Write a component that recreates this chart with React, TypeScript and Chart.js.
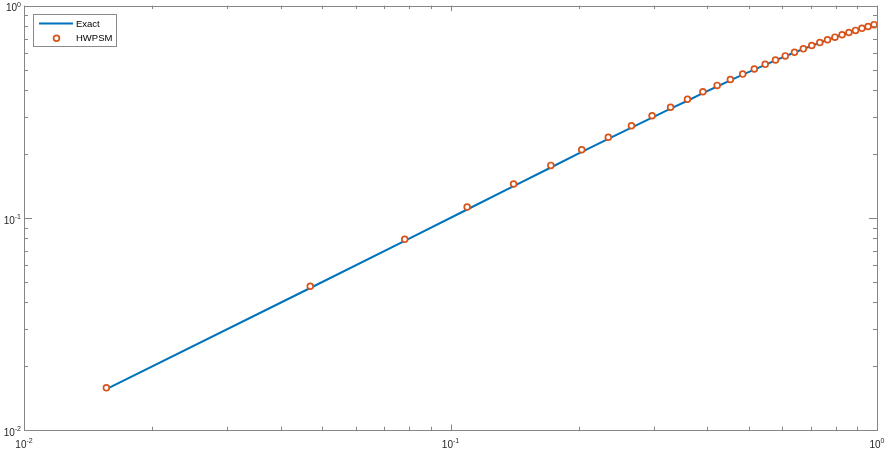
import { useEffect, useRef } from 'react';
import Chart from 'chart.js/auto';

// sample points (x) shared by both series
const X_VALUES = [
  0.0156, 0.0469, 0.0781, 0.1094, 0.1406, 0.1719, 0.2031, 0.2344, 0.2656, 0.2969, 0.3281,
  0.3594, 0.3906, 0.4219, 0.4531, 0.4844, 0.5156, 0.5469, 0.5781, 0.6094, 0.6406, 0.6719,
  0.7031, 0.7344, 0.7656, 0.7969, 0.8281, 0.8594, 0.8906, 0.9219, 0.9531, 0.9844
];

const EXACT_Y = [
  0.0156, 0.0467, 0.0778, 0.1095, 0.141, 0.1727, 0.2045, 0.2355, 0.2665, 0.297, 0.327,
  0.3565, 0.387, 0.416, 0.445, 0.473, 0.5, 0.5265, 0.5525, 0.5775, 0.6015, 0.625,
  0.6475, 0.669, 0.69, 0.71, 0.7295, 0.748, 0.7655, 0.7825, 0.7985, 0.814
];

const HWPSM_Y = [
  0.0158, 0.0476, 0.0792, 0.1124, 0.1443, 0.1767, 0.2094, 0.24, 0.2716, 0.3027, 0.3322,
  0.3623, 0.393, 0.421, 0.449, 0.476, 0.503, 0.529, 0.555, 0.58, 0.603, 0.626,
  0.649, 0.67, 0.691, 0.711, 0.73, 0.748, 0.765, 0.782, 0.798, 0.814
];

const SERIES_LABELS = ['Exact', 'HWPSM'];
const TICK_EXPONENTS = [-2, -1, 0];
const MINOR_STEPS = [2, 3, 4, 5, 6, 7, 8, 9];

const C = {
  blue: '#0072BD',
  orange: '#D95319',
  axis: '#868686',
  text: '#262626',
  legendEdge: '#8a8a8a'
};
const FONT = '"Liberation Sans", Arial, Helvetica, sans-serif';

// MATLAB-like box, inward ticks and 10^n labels
const axesPlugin = {
  id: 'matlabAxes',
  afterDatasetsDraw(chart: any) {
    const { ctx, chartArea, scales } = chart;
    const { left, right, top, bottom } = chartArea;
    const xs = scales.x;
    const ys = scales.y;
    ctx.save();
    ctx.strokeStyle = C.axis;
    ctx.lineWidth = 1;
    ctx.strokeRect(Math.round(left) + 0.5, Math.round(top) + 0.5, Math.round(right - left), Math.round(bottom - top));

    const ticks: { v: number; major: boolean }[] = [];
    TICK_EXPONENTS.forEach((e, i) => {
      ticks.push({ v: Math.pow(10, e), major: true });
      if (i < TICK_EXPONENTS.length - 1) {
        MINOR_STEPS.forEach((m) => ticks.push({ v: m * Math.pow(10, e), major: false }));
      }
    });

    ctx.beginPath();
    ticks.forEach(({ v, major }) => {
      const px = Math.round(xs.getPixelForValue(v)) + 0.5;
      const lx = major ? 5.5 : 3.3;
      ctx.moveTo(px, bottom);
      ctx.lineTo(px, bottom - lx);
      ctx.moveTo(px, top);
      ctx.lineTo(px, top + lx);
      const py = Math.round(ys.getPixelForValue(v)) + 0.5;
      const ly = major ? 8 : 4;
      ctx.moveTo(left, py);
      ctx.lineTo(left + ly, py);
      ctx.moveTo(right, py);
      ctx.lineTo(right - ly, py);
    });
    ctx.stroke();

    ctx.fillStyle = C.text;
    ctx.textBaseline = 'middle';
    ctx.textAlign = 'left';
    const baseFont = `10px ${FONT}`;
    const supFont = `7px ${FONT}`;
    TICK_EXPONENTS.forEach((e) => {
      const v = Math.pow(10, e);
      const sup = e < 0 ? '-' + Math.abs(e) : String(e);
      ctx.font = baseFont;
      const wb = ctx.measureText('10').width;
      ctx.font = supFont;
      const ws = ctx.measureText(sup).width;
      const w = wb + ws;

      // x axis label
      const px = xs.getPixelForValue(v);
      const x0 = px - w / 2;
      ctx.font = baseFont;
      ctx.fillText('10', x0, bottom + 15);
      ctx.font = supFont;
      ctx.fillText(sup, x0 + wb, bottom + 11);

      // y axis label
      const py = ys.getPixelForValue(v);
      const y0 = 21 - w;
      ctx.font = baseFont;
      ctx.fillText('10', y0, py + 3);
      ctx.font = supFont;
      ctx.fillText(sup, y0 + wb, py - 0.5);
    });
    ctx.restore();
  },
  afterDraw(chart: any) {
    const { ctx } = chart;
    const ds = chart.data.datasets;
    ctx.save();
    ctx.fillStyle = '#fff';
    ctx.fillRect(33, 14, 83, 32);
    ctx.strokeStyle = C.legendEdge;
    ctx.lineWidth = 1;
    ctx.strokeRect(33.5, 14.5, 83, 32);

    ctx.strokeStyle = ds[0].borderColor;
    ctx.lineWidth = 2;
    ctx.beginPath();
    ctx.moveTo(39, 23.5);
    ctx.lineTo(73, 23.5);
    ctx.stroke();

    ctx.strokeStyle = ds[1].pointBorderColor;
    ctx.lineWidth = 1.7;
    ctx.beginPath();
    ctx.arc(56.5, 38.3, 2.9, 0, Math.PI * 2);
    ctx.stroke();

    ctx.fillStyle = '#000';
    ctx.font = `9.5px ${FONT}`;
    ctx.textBaseline = 'middle';
    ctx.textAlign = 'left';
    ctx.fillText(ds[0].label, 76, 24);
    ctx.fillText(ds[1].label, 76, 38.5);
    ctx.restore();
  }
};

export default function App() {
  const canvasRef = useRef<HTMLCanvasElement | null>(null);

  useEffect(() => {
    if (!canvasRef.current) return;
    const chart = new Chart(canvasRef.current, {
      type: 'line',
      data: {
        datasets: [
          {
            label: SERIES_LABELS[0],
            data: X_VALUES.map((x, i) => ({ x, y: EXACT_Y[i] })),
            borderColor: C.blue,
            borderWidth: 2,
            pointRadius: 0,
            tension: 0,
            order: 2,
            clip: false
          },
          {
            label: SERIES_LABELS[1],
            data: X_VALUES.map((x, i) => ({ x, y: HWPSM_Y[i] })),
            showLine: false,
            pointStyle: 'circle',
            pointRadius: 2.9,
            pointBorderWidth: 1.7,
            pointBorderColor: C.orange,
            pointBackgroundColor: '#fff',
            borderColor: C.orange,
            order: 1,
            clip: false
          }
        ] as any
      },
      options: {
        responsive: true,
        maintainAspectRatio: false,
        animation: false,
        layout: {
          padding: { left: 24, right: 9, top: 5, bottom: 20 }
        },
        plugins: {
          legend: { display: false },
          tooltip: { enabled: false }
        },
        scales: {
          x: { type: 'logarithmic', min: 0.01, max: 1, display: false },
          y: { type: 'logarithmic', min: 0.01, max: 1, display: false }
        }
      },
      plugins: [axesPlugin]
    });
    return () => chart.destroy();
  }, []);

  return (
    <div style={{ position: 'fixed', left: 0, top: 0, width: 886, height: 450, background: '#fff' }}>
      <canvas ref={canvasRef}></canvas>
    </div>
  );
}
